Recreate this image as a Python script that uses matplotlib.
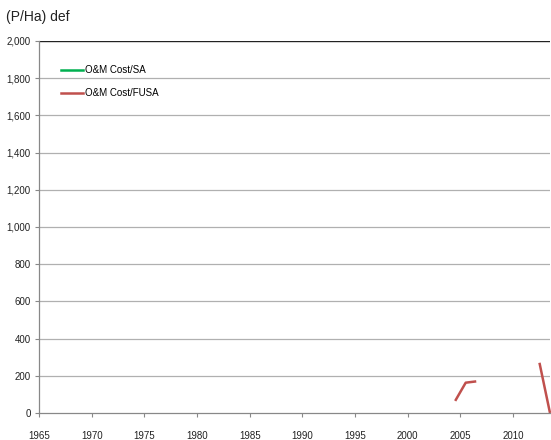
import matplotlib
matplotlib.use('Agg')
import matplotlib.pyplot as plt
from matplotlib.lines import Line2D

# series (Excel category axis -> points sit mid-year)
years_fusa_a = [2004.5, 2005.5, 2006.5]
cost_fusa_a = [65, 163, 170]
years_fusa_b = [2012.5, 2013.5]
cost_fusa_b = [270, 0]
years_sa = []
cost_sa = []

xticks = list(range(1965, 2015, 5))
yticks = list(range(0, 2001, 200))

plt.rcParams['font.family'] = ['Liberation Sans', 'DejaVu Sans']

fig = plt.figure(figsize=(5.51, 4.40), dpi=100)
ax = fig.add_axes([39/551, 1-413/440, 511/551, (413-41)/440])

ax.plot(years_sa, cost_sa, color='#00b050', lw=1.8)
ax.plot(years_fusa_a, cost_fusa_a, color='#c0504d', lw=1.8, solid_capstyle='butt')
ax.plot(years_fusa_b, cost_fusa_b, color='#c0504d', lw=1.8, solid_capstyle='butt', clip_on=False)

ax.set_xlim(1965, 2013.5)
ax.set_ylim(0, 2000)
ax.set_xticks(xticks)
ax.set_yticks(yticks)
ax.set_yticklabels([f'{v:,}' for v in yticks])
ax.tick_params(axis='both', labelsize=7, color='#888888', length=3, labelcolor='#222222')
ax.tick_params(axis='x', pad=10)
ax.tick_params(axis='y', pad=3)

for v in yticks[1:-1]:
    ax.axhline(v, color='#b0b0b0', lw=0.9, zorder=0)
ax.axhline(2000, color='#222222', lw=1.0, zorder=0)

for s in ['top', 'right']:
    ax.spines[s].set_visible(False)
for s in ['left', 'bottom']:
    ax.spines[s].set_color('#888888')
    ax.spines[s].set_linewidth(0.9)

fig.text(6/551, 1-17/440, '(P/Ha) def', fontsize=10, va='center', ha='left', color='#222222')

handles = [Line2D([], [], color='#00b050', lw=1.8),
           Line2D([], [], color='#c0504d', lw=1.8)]
ax.legend(handles, ['O&M Cost/SA', 'O&M Cost/FUSA'], loc='upper left',
          bbox_to_anchor=(18/511, 0.945), frameon=False, fontsize=7,
          handlelength=2.3, handletextpad=0.15, labelspacing=1.3, borderaxespad=0)

fig.savefig('out.png', dpi=100)
